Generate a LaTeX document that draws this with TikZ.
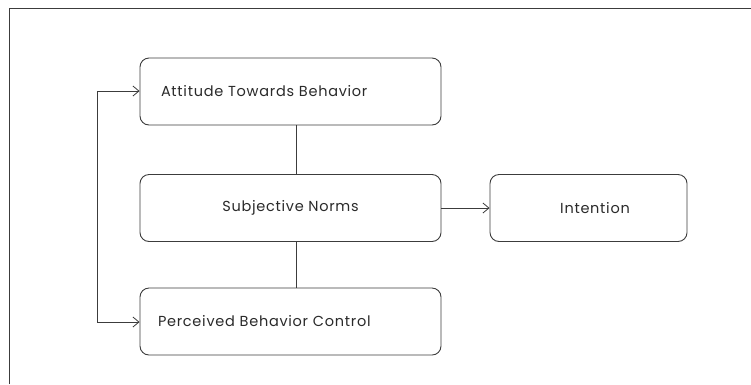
\documentclass[tikz,border=0pt]{standalone}
\usepackage{fontspec}
\setmainfont{Poppins}[LetterSpace=5]
\usetikzlibrary{arrows.meta}
\definecolor{linec}{HTML}{3C3C3C}
\definecolor{textc}{HTML}{2A2A2A}
\tikzset{
  box/.style={draw=linec, line width=0.9pt, rounded corners=9pt, fill=white,
    minimum height=67pt, text=textc, font=\fontsize{14.5}{16}\selectfont, inner ysep=0pt},
  wide/.style={box, minimum width=301pt},
  narrow/.style={box, minimum width=197pt, inner xsep=0pt},
  conn/.style={draw=linec, line width=0.8pt},
  arr/.style={conn, -{Straight Barb[length=6pt,width=10pt,line width=0.8pt]}}
}
\begin{document}
\begin{tikzpicture}[x=1pt,y=-1pt]
\useasboundingbox (0,0) rectangle (751,384);
\draw[conn, line width=1pt] (9,384) -- (9,8) -- (751,8);
\node[wide, align=left, text width=259pt, inner xsep=21pt] (att) at (290.5,91.5) {Attitude Towards Behavior};
\node[wide, inner xsep=0pt] (sn) at (290.5,208) {Subjective Norms};
\node[narrow] (int) at (588.5,208) {\hspace*{13pt}Intention};
\node[wide, align=left, text width=265pt, inner xsep=18pt] (pbc) at (290.5,321.5) {Perceived Behavior Control};
\coordinate (loopTop) at (97,91);
\coordinate (loopBot) at (97,322);
\draw[conn] (att.south -| 296,0) -- (sn.north -| 296,0);
\draw[conn] (sn.south -| 296,0) -- (pbc.north -| 296,0);
\draw[arr] (sn.east) -- (int.west);
\draw[arr] (loopBot) -- (pbc.west |- loopBot);
\draw[arr] (loopBot) -- (loopTop) -- (att.west |- loopTop);
\end{tikzpicture}
\end{document}
